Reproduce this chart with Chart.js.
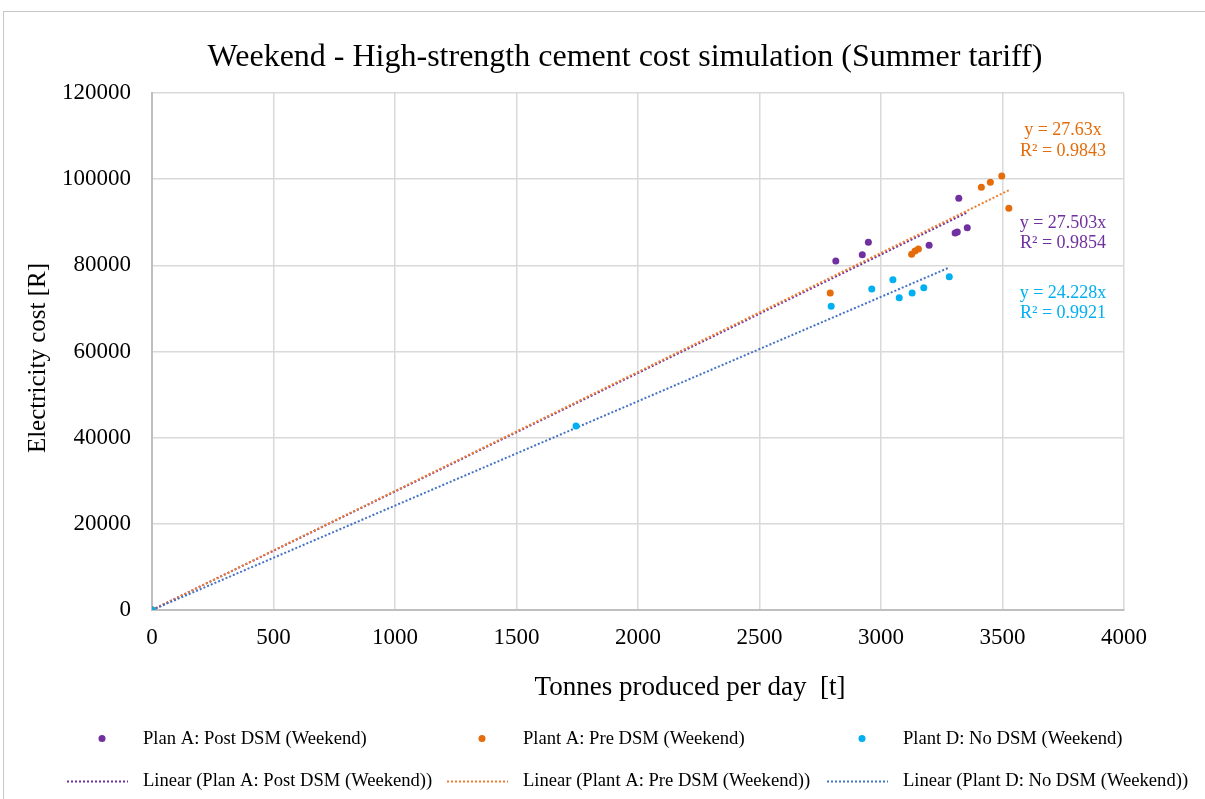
<!DOCTYPE html>
<html>
<head>
<meta charset="utf-8">
<script src="https://cdn.jsdelivr.net/npm/chart.js@4.4.0/dist/chart.umd.min.js"></script>
<style>
  html, body { margin: 0; padding: 0; background: #fff; overflow: hidden; }
  #wrap { position: absolute; left: 0; top: 0; width: 1205px; height: 799px; }
  #frame { position: absolute; left: 3px; top: 11px; width: 1400px; height: 1000px;
           border-left: 1px solid #c6c6c6; border-top: 1px solid #c6c6c6; }
  canvas { position: absolute; left: 0; top: 0; }
</style>
</head>
<body>
<div id="wrap">
  <div id="frame"></div>
  <canvas id="chart" width="1205" height="799"></canvas>
</div>
<script>
// Tonnes produced per day [t] and electricity cost [R] per weekend day
const planAPostTonnes = [0, 2814, 2923, 2948, 3320, 3198, 3305, 3314, 3355];
const planAPostCost   = [0, 81000, 82470, 85350, 95560, 84650, 87510, 87740, 88740];

const plantAPreTonnes = [0, 2791, 3126, 3140, 3154, 3413, 3450, 3497, 3526];
const plantAPreCost   = [0, 73580, 82560, 83330, 83790, 98110, 99270, 100740, 93240];

const plantDTonnes = [0, 1745, 2795, 2962, 3049, 3075, 3128, 3176, 3281];
const plantDCost   = [0, 42710, 70490, 74510, 76670, 72490, 73580, 74810, 77360];

// Linear fits through the origin (slope and R²)
const seriesNames = ['Plan A: Post DSM (Weekend)', 'Plant A: Pre DSM (Weekend)', 'Plant D: No DSM (Weekend)'];
const trendSlopes = [27.503, 27.63, 24.228];
const trendR2     = ['0.9854', '0.9843', '0.9921'];

const xTicks = [0, 500, 1000, 1500, 2000, 2500, 3000, 3500, 4000];
const yTicks = [0, 20000, 40000, 60000, 80000, 100000, 120000];

const chartTitle = 'Weekend - High-strength cement cost simulation (Summer tariff)';
const xTitle = 'Tonnes produced per day  [t]';
const yTitle = 'Electricity cost [R]';

// ---- styling ----
const FONT = '"Liberation Serif", "Times New Roman", serif';
const markerColors = ['#7030A0', '#E46C0A', '#00B0F0'];
const trendColors  = ['#7030A0', '#ED7D31', '#4472C4'];
const labelColors  = ['#7030A0', '#E46C0A', '#00B0F0'];

const toPoints = (xs, ys) => xs.map((x, i) => ({ x, y: ys[i] }));
const trendPoints = (xs, slope) => {
  const xMax = Math.max(...xs);
  return [{ x: 0, y: 0 }, { x: xMax, y: slope * xMax }];
};

const tonnes = [planAPostTonnes, plantAPreTonnes, plantDTonnes];
const costs  = [planAPostCost, plantAPreCost, plantDCost];

const pointSets = [0, 1, 2].map(i => ({
  label: seriesNames[i],
  data: toPoints(tonnes[i], costs[i]),
  backgroundColor: markerColors[i],
  borderColor: markerColors[i],
  pointRadius: 3.5,
  pointBorderWidth: 0,
  showLine: false,
  order: 2 - i
}));

const trendSets = [0, 1, 2].map(i => ({
  label: 'Linear (' + seriesNames[i] + ')',
  data: trendPoints(tonnes[i], trendSlopes[i]),
  borderColor: trendColors[i],
  borderWidth: 2,
  borderDash: [2, 2],
  pointRadius: 0,
  showLine: true,
  fill: false,
  order: [5, 4, 3][i]
}));

// Trend equation labels, placed beside the fitted lines
const eqLabelPos = [
  { x: 1063, y1: 223.5, y2: 243.5 },
  { x: 1063, y1: 130.5, y2: 151.5 },
  { x: 1063, y1: 293, y2: 313.5 }
];

const legendCols = [143, 523, 903];

const decorPlugin = {
  id: 'decor',
  afterDraw(chart) {
    const ctx = chart.ctx;
    ctx.save();
    ctx.fillStyle = '#000';
    ctx.textAlign = 'center';
    ctx.textBaseline = 'middle';

    ctx.font = '32px ' + FONT;
    ctx.fillText(chartTitle, 625, 57.5);

    ctx.font = '27px ' + FONT;
    ctx.fillText(xTitle, 690, 688);

    ctx.font = '25px ' + FONT;
    ctx.save();
    ctx.translate(38, 358);
    ctx.rotate(-Math.PI / 2);
    ctx.fillText(yTitle, 0, 0);
    ctx.restore();

    // fit equations
    ctx.font = '18px ' + FONT;
    for (let i = 0; i < 3; i++) {
      ctx.fillStyle = labelColors[i];
      ctx.fillText('y = ' + trendSlopes[i] + 'x', eqLabelPos[i].x, eqLabelPos[i].y1);
      ctx.fillText('R² = ' + trendR2[i], eqLabelPos[i].x, eqLabelPos[i].y2);
    }

    // legend: markers row, then trend line row
    ctx.font = '18.6px ' + FONT;
    ctx.textAlign = 'left';
    ctx.textBaseline = 'alphabetic';
    for (let i = 0; i < 3; i++) {
      const tx = legendCols[i];
      ctx.fillStyle = markerColors[i];
      ctx.beginPath();
      ctx.arc(tx - 41, 738.5, 3.5, 0, Math.PI * 2);
      ctx.fill();
      ctx.fillStyle = '#000';
      ctx.fillText(seriesNames[i], tx, 744);

      ctx.strokeStyle = trendColors[i];
      ctx.lineWidth = 2;
      ctx.setLineDash([2, 2]);
      ctx.beginPath();
      ctx.moveTo(tx - 76, 781.5);
      ctx.lineTo(tx - 15, 781.5);
      ctx.stroke();
      ctx.setLineDash([]);
      ctx.fillText(trendSets[i].label, tx, 786);
    }
    ctx.restore();
  }
};

const plainNumber = v => String(v);

new Chart(document.getElementById('chart'), {
  type: 'scatter',
  data: { datasets: [...pointSets, ...trendSets] },
  options: {
    responsive: false,
    animation: false,
    layout: { padding: { top: 93, right: 81, bottom: 89, left: 0 } },
    plugins: {
      legend: { display: false },
      title: { display: false },
      tooltip: { enabled: false }
    },
    scales: {
      x: {
        type: 'linear',
        min: 0, max: 4000,
        afterFit: s => { s.height = 100; },
        afterBuildTicks: s => { s.ticks = xTicks.map(v => ({ value: v })); },
        ticks: { color: '#000', font: { family: FONT, size: 23 }, padding: 14, callback: plainNumber },
        grid: { color: '#D9D9D9', lineWidth: 1.5, drawTicks: false },
        border: { color: '#BFBFBF', width: 2 }
      },
      y: {
        type: 'linear',
        min: 0, max: 120000,
        afterFit: s => { s.width = 152; },
        afterBuildTicks: s => { s.ticks = yTicks.map(v => ({ value: v })); },
        ticks: { color: '#000', font: { family: FONT, size: 23 }, padding: 21, callback: plainNumber },
        grid: { color: '#D9D9D9', lineWidth: 1.5, drawTicks: false },
        border: { color: '#BFBFBF', width: 2 }
      }
    }
  },
  plugins: [decorPlugin]
});
</script>
</body>
</html>
